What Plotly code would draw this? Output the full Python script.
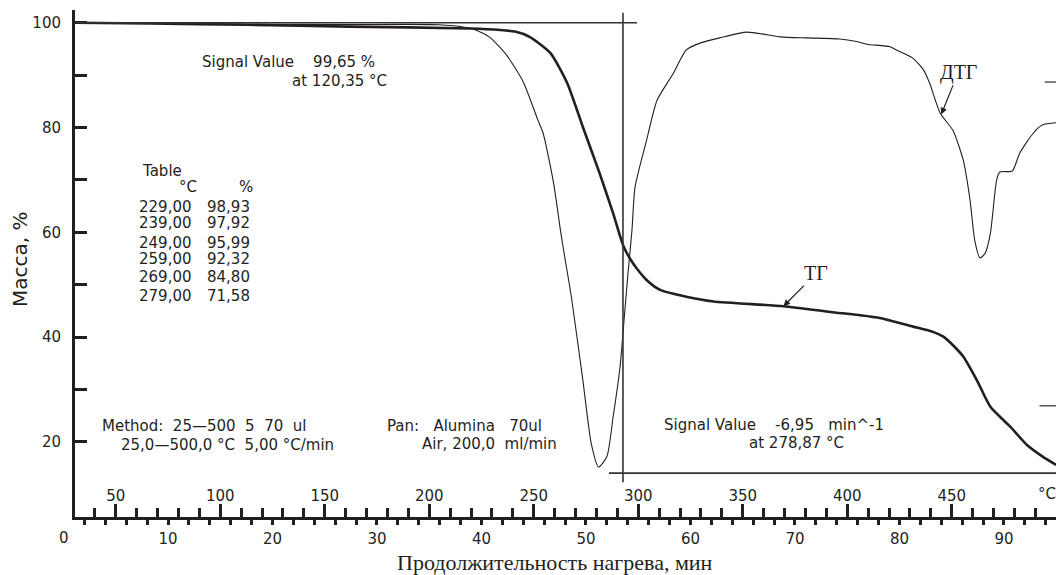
import plotly.graph_objects as go

# ---------------- data ----------------
# TG curve: heating time (min) vs. mass (%)
tg_time = [1.1, 8.3, 17.6, 27.4, 38.9, 41.8, 43.2, 44.6, 46.6, 48.2, 49.7, 51.3,
           52.6, 53.6, 54.5, 55.8, 57.1, 59.6, 62.2, 68.9, 73.4, 78.1, 81.3, 83.2,
           84.2, 85.1, 86.1, 87.4, 88.7, 90.6, 92.2, 93.7, 95.0]
tg_mass = [100.0, 99.85, 99.6, 99.25, 98.9, 98.6, 98.3, 97.3, 94.2, 88.5, 80.1, 71.3,
           63.6, 57.3, 54.1, 50.9, 49.0, 47.7, 46.8, 45.9, 44.8, 43.65, 42.0, 41.0,
           40.1, 38.5, 36.3, 31.8, 26.7, 22.9, 19.4, 17.2, 15.6]

# DTG curve (drawn on the same vertical scale as in the original plot)
dtg_time = [1.1, 17.6, 27.4, 36.0, 39.2, 40.8, 42.4, 44.0, 45.4, 45.9,
            46.9, 47.6, 48.0, 48.6, 49.7, 50.5, 51.2, 52.0, 52.6, 53.25,
            53.7, 54.05, 54.4, 54.7, 55.8, 56.8, 58.35, 59.6, 60.9, 62.8,
            65.4, 68.6, 71.1, 74.3, 75.9, 76.9, 79.1, 79.7, 81.3, 82.3,
            82.9, 83.9, 85.1, 86.1, 86.75, 87.2, 87.7, 88.2, 88.7, 89.3,
            89.6, 90.8, 91.5, 92.8, 93.7, 95.0]
dtg_signal = [100.0, 99.7, 99.65, 99.6, 98.8, 97.2, 93.8, 88.7, 81.4, 78.9,
              69.4, 59.8, 54.9, 47.7, 31.8, 19.7, 15.2, 17.2, 24.8, 34.1,
              44.6, 52.8, 60.4, 68.7, 77.6, 85.2, 90.3, 94.8, 96.1, 97.1,
              98.2, 97.3, 97.1, 96.9, 96.4, 95.9, 95.4, 94.8, 93.2, 91.0,
              88.4, 82.7, 79.5, 73.8, 66.2, 58.5, 55.1, 56.0, 59.8, 70.0,
              71.5, 71.7, 75.1, 78.9, 80.5, 80.9]

# axis ticks
minute_label_vals = [0, 10, 20, 30, 40, 50, 60, 70, 80, 90]
minute_tick_vals = list(range(2, 95, 2))
temp_label_vals = [50, 100, 150, 200, 250, 300, 350, 400, 450]
temp_minor_vals = list(range(40, 500, 10))
mass_tick_vals = [10, 20, 30, 40, 50, 60, 70, 80, 90, 100]
mass_label_vals = [20, 40, 60, 80, 100]

# embedded table of the instrument printout
table_temp = ["229,00", "239,00", "249,00", "259,00", "269,00", "279,00"]
table_mass = ["98,93", "97,92", "95,99", "92,32", "84,80", "71,58"]

# cursor lines of the instrument printout
cursor_time = 53.54
cursor_level_tg = 100.0
cursor_level_dtg = 14.05

# heating program: 25 °C start, 5 °C/min
T_START, RATE = 25.0, 5.0


def temp_to_time(T):
    return (T - T_START) / RATE


# ---------------- layout geometry ----------------
W, H = 1056, 575
ML, MR, MT, MB = 75, 0, 10, 58
X_RANGE = [1.10, 94.98]
Y_RANGE = [5.67, 102.42]
INK = "#231f20"
SANS = "DejaVu Sans"
SERIF = "Liberation Serif"


def P(px, py):
    """pixel -> paper coordinates (plot area)."""
    return (px - ML) / (W - ML - MR), (H - MB - py) / (H - MT - MB)


fig = go.Figure()

fig.add_trace(go.Scatter(x=tg_time, y=tg_mass, mode="lines", name="ТГ",
                         line=dict(color=INK, width=2.6, shape="spline", smoothing=0.6),
                         showlegend=False))
fig.add_trace(go.Scatter(x=dtg_time, y=dtg_signal, mode="lines", name="ДТГ",
                         line=dict(color=INK, width=1.1, shape="spline", smoothing=0.6),
                         showlegend=False))

tick_font = dict(family=SANS, size=15, color=INK)

fig.update_layout(
    width=W, height=H,
    margin=dict(l=ML, r=MR, t=MT, b=MB),
    paper_bgcolor="white", plot_bgcolor="white",
    showlegend=False,
    xaxis=dict(
        range=X_RANGE, domain=[0, 1], anchor="y",
        showgrid=False, zeroline=False,
        showline=True, linewidth=3, linecolor=INK,
        ticks="outside", ticklen=5, tickwidth=3, tickcolor=INK,
        tickmode="array", tickvals=minute_tick_vals,
        ticktext=[str(v) if v in minute_label_vals else "" for v in minute_tick_vals],
        tickfont=tick_font, ticklabelstandoff=1,
    ),
    xaxis2=dict(
        range=X_RANGE, domain=[0, 1], anchor="y", overlaying="x", side="bottom",
        showgrid=False, zeroline=False, showline=False,
        ticks="inside", ticklen=9, tickwidth=3, tickcolor=INK,
        tickmode="array", tickvals=[temp_to_time(T) for T in temp_minor_vals],
        showticklabels=False,
    ),
    xaxis3=dict(
        range=X_RANGE, domain=[0, 1], anchor="y", overlaying="x", side="bottom",
        showgrid=False, zeroline=False, showline=False,
        ticks="inside", ticklen=13, tickwidth=3, tickcolor=INK,
        tickmode="array", tickvals=[temp_to_time(T) for T in temp_label_vals],
        ticktext=[str(T) for T in temp_label_vals],
        ticklabelposition="inside", tickfont=tick_font,
    ),
    yaxis=dict(
        range=Y_RANGE, domain=[0, 1],
        showgrid=False, zeroline=False,
        showline=True, linewidth=3, linecolor=INK,
        ticks="inside", ticklen=12, tickwidth=3, tickcolor=INK,
        tickmode="array", tickvals=mass_tick_vals,
        ticktext=[str(v) if v in mass_label_vals else "" for v in mass_tick_vals],
        tickfont=tick_font, ticklabelstandoff=8,
    ),
)

# invisible anchors so that the overlaid temperature axes are drawn
fig.add_trace(go.Scatter(x=[X_RANGE[0]], y=[Y_RANGE[0]], xaxis="x2", yaxis="y",
                         mode="markers", marker=dict(opacity=0), hoverinfo="skip"))
fig.add_trace(go.Scatter(x=[X_RANGE[0]], y=[Y_RANGE[0]], xaxis="x3", yaxis="y",
                         mode="markers", marker=dict(opacity=0), hoverinfo="skip"))

# cursor lines from the printout
line_style = dict(color="#333333", width=1.6)
fig.add_shape(type="line", xref="x", yref="y", x0=X_RANGE[0], x1=54.88,
              y0=cursor_level_tg, y1=cursor_level_tg, line=line_style)
fig.add_shape(type="line", xref="x", yref="y", x0=cursor_time, x1=cursor_time,
              y0=101.9, y1=12.3, line=line_style)
fig.add_shape(type="line", xref="x", yref="y", x0=52.2, x1=X_RANGE[1],
              y0=cursor_level_dtg, y1=cursor_level_dtg, line=line_style)
# right-hand scale marks (cut at the picture edge)
fig.add_shape(type="line", xref="x", yref="y", x0=93.9, x1=X_RANGE[1],
              y0=88.67, y1=88.67, line=dict(color="#555555", width=1.5))
fig.add_shape(type="line", xref="x", yref="y", x0=93.4, x1=X_RANGE[1],
              y0=26.9, y1=26.9, line=dict(color="#555555", width=1.5))

NB = "\u00a0"
txt_font = dict(family=SANS, size=15, color=INK)


def add_text(text, px, py, xanchor="left", font=None, angle=0):
    x, y = P(px, py)
    fig.add_annotation(text=text, x=x, y=y, xref="paper", yref="paper",
                       xanchor=xanchor, yanchor="middle", showarrow=False,
                       textangle=angle, font=font or txt_font)


add_text("Signal Value" + NB * 4 + "99,65 %", 200, 62)
add_text("at 120,35 °C", 290, 81)
add_text("Table", 140, 171)
add_text("°C", 177, 187)
add_text("%", 237, 187)
row_y = [206.7, 222.7, 243.3, 259, 276.7, 295.7]
for tt, mm, yy in zip(table_temp, table_mass, row_y):
    add_text(tt, 137, yy)
    add_text(mm, 205, yy)
add_text("Method:" + NB * 2 + "25—500" + NB * 2 + "5" + NB * 2 + "70" + NB * 2 + "ul", 100, 426)
add_text("25,0—500,0 °C" + NB * 2 + "5,00 °C/min", 119, 445)
add_text("Pan:" + NB * 3 + "Alumina" + NB * 3 + "70ul", 385, 426)
add_text("Air, 200,0" + NB * 2 + "ml/min", 559, 444, xanchor="right")
add_text("Signal Value" + NB * 4 + "-6,95" + NB * 3 + "min^-1", 662, 425)
add_text("at 278,87 °C", 747, 443)
add_text("°C", 1036, 494)
add_text("0", 63.5, 538, xanchor="center", font=tick_font)

# axis titles
add_text("Масса, %", 20, 260, xanchor="center",
         font=dict(family=SANS, size=20, color=INK), angle=-90)
add_text("Продолжительность нагрева, мин", 555, 562, xanchor="center",
         font=dict(family=SERIF, size=22, color=INK))

# curve labels with arrows
fig.add_annotation(x=68.9, y=45.9, xref="x", yref="y", text="ТГ",
                   showarrow=True, ax=33, ay=-33, arrowhead=2, arrowsize=1.1,
                   arrowwidth=1.2, arrowcolor=INK,
                   font=dict(family=SERIF, size=20, color=INK))
fig.add_annotation(x=84.0, y=82.5, xref="x", yref="y", text="ДТГ",
                   showarrow=True, ax=17, ay=-42, arrowhead=2, arrowsize=1.1,
                   arrowwidth=1.2, arrowcolor=INK,
                   font=dict(family=SERIF, size=20, color=INK))

fig.write_html("out.html")
